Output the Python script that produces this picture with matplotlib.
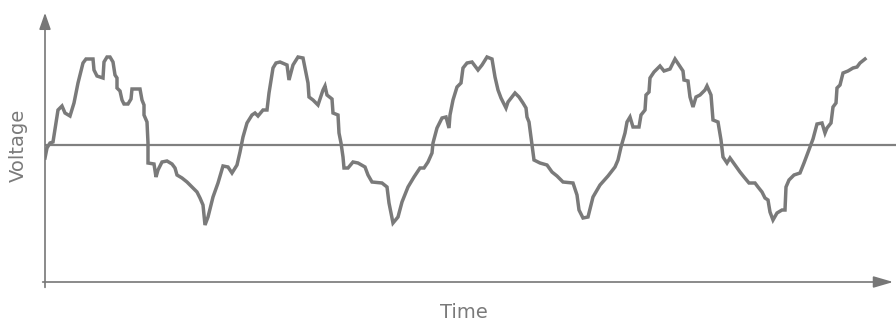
import matplotlib.pyplot as plt
import numpy as np

# waveform: time in px from the voltage axis,
# level in px (image rows), converted to voltage below
time_px = [45, 47, 50, 53, 56, 58, 62, 65, 70, 74, 78, 83, 86, 93, 94, 97, 103, 104, 107, 110,
           113, 115, 117, 117, 120, 122, 124, 128, 131, 132, 140, 142, 144, 144, 147, 148, 148,
           154, 156, 158, 162, 167, 172, 175, 177, 182, 187, 192, 197, 200, 203, 205, 208, 213,
           218, 223, 228, 232, 237, 240, 243, 247, 252, 255, 258, 263, 267, 269, 273, 276, 280,
           287, 289, 293, 298, 303, 305, 308, 309, 313, 318, 323, 325, 327, 332, 333, 338, 339,
           341, 343, 344, 348, 353, 358, 365, 368, 372, 382, 387, 389, 393, 398, 402, 408, 414,
           420, 424, 428, 432, 433, 437, 442, 446, 449, 450, 453, 457, 461, 463, 467, 472, 478,
           482, 487, 492, 495, 498, 501, 506, 508, 515, 519, 523, 526, 527, 529, 532, 534, 540,
           547, 552, 557, 563, 573, 577, 579, 583, 588, 593, 600, 608, 615, 618, 621, 625, 627,
           630, 633, 639, 641, 645, 646, 649, 650, 654, 660, 664, 670, 675, 679, 683, 684, 688,
           690, 693, 696, 700, 705, 707, 711, 713, 718, 721, 723, 727, 730, 735, 740, 744, 749,
           755, 758, 762, 765, 768, 770, 773, 777, 782, 785, 786, 789, 794, 800, 804, 810, 813,
           817, 822, 825, 827, 831, 833, 836, 837, 840, 843, 848, 853, 857, 860, 865]
level_px = [158, 148, 143, 142, 123, 110, 106, 113, 116, 103, 83, 63, 59, 59, 70, 76, 78, 62, 57, 57,
            62, 75, 78, 88, 91, 100, 104, 104, 99, 89, 89, 100, 105, 115, 122, 143, 163,
            164, 177, 170, 162, 161, 164, 168, 175, 178, 182, 187, 192, 198, 205, 225, 217, 197,
            183, 166, 167, 173, 165, 152, 137, 123, 115, 113, 116, 110, 110, 93, 68, 63, 62,
            65, 80, 65, 57, 58, 68, 83, 97, 100, 105, 90, 86, 95, 99, 113, 115, 133,
            143, 157, 168, 168, 162, 163, 167, 175, 182, 183, 187, 203, 223, 217, 202, 187, 177,
            168, 168, 162, 153, 143, 128, 118, 117, 128, 115, 100, 87, 83, 68, 63, 62, 70,
            65, 57, 59, 77, 90, 98, 108, 102, 93, 97, 103, 108, 117, 122, 145, 160, 163,
            165, 172, 176, 182, 183, 195, 210, 218, 217, 197, 185, 176, 167, 160, 147, 133, 122,
            117, 127, 127, 115, 110, 95, 92, 78, 72, 66, 71, 69, 59, 65, 71, 80, 81,
            97, 107, 97, 95, 90, 86, 95, 120, 122, 140, 157, 163, 158, 165, 172, 177, 183,
            183, 187, 192, 198, 200, 212, 220, 213, 210, 210, 187, 180, 175, 173, 163, 147, 139,
            124, 123, 133, 128, 123, 107, 103, 88, 85, 73, 71, 68, 67, 63, 59]

t = np.array(time_px) - 45
v = 145 - np.array(level_px)

fig = plt.figure(figsize=(8.96, 3.25), dpi=100)
ax = fig.add_axes([45/896, 43/325, 851/896, 272/325])
ax.set_xlim(0, 851)
ax.set_ylim(-137, 135)
ax.axis('off')

# zero line
ax.axhline(0, color='#808080', lw=1.6, zorder=2)
ax.plot(t, v, color='#7a7a7a', lw=2.5, solid_joinstyle='miter', zorder=3)

# axes with arrows
ax.annotate('', xy=(0, 1), xytext=(0, -0.03), xycoords='axes fraction',
            arrowprops=dict(arrowstyle='-|>,head_length=1.0,head_width=0.35', color='#777777', lw=1.2))
ax.annotate('', xy=(1, 0), xytext=(-0.006, 0), xycoords='axes fraction',
            arrowprops=dict(arrowstyle='-|>,head_length=1.2,head_width=0.35', color='#777777', lw=1.2))

fig.text(18/896, 1 - 145/325, 'Voltage', rotation=90, ha='center', va='center',
         fontsize=14, color='#7a7a7a')
fig.text(464/896, 1 - 313/325, 'Time', ha='center', va='center',
         fontsize=14, color='#7a7a7a')

fig.savefig('out.png', dpi=100)
